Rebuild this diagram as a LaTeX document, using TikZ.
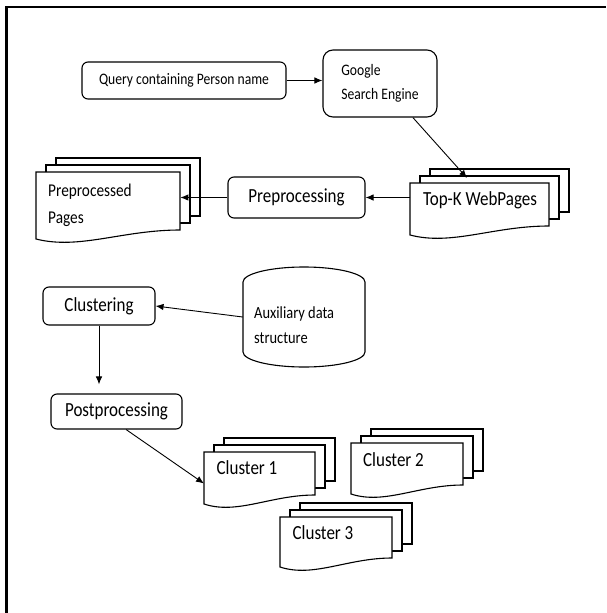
\documentclass[tikz,border=0pt]{standalone}
\usepackage{fontspec}
\setmainfont{Carlito}[FakeStretch=0.85]
\usetikzlibrary{arrows.meta,positioning}

% a stack of three pages: name, top left corner of the front page, width, height
\newcommand{\pagestack}[4]{%
  \begin{scope}[shift={#2}]
    \draw[page] (20,-14) rectangle ++(#3,#4);
    \draw[page] (10,-7) rectangle ++(#3,#4);
    \draw[page] (0,0) -- (#3,0) -- (#3,#4)
      .. controls (0.6*#3,#4) and (0.3*#3,#4+20) .. (0,#4+9) -- cycle;
    \node[inner sep=0pt, minimum width=#3pt, minimum height=#4pt, anchor=north west] (#1) at (0,0) {};
  \end{scope}}

\begin{document}
\begin{tikzpicture}[x=1pt, y=-1pt,
    proc/.style={draw, rounded corners=6pt, line width=1.1pt, align=center, inner sep=0pt},
    page/.style={draw, line width=1.1pt, fill=white},
    pagetext/.style={inner sep=0pt, align=left},
    bigtext/.style={font=\fontsize{20}{24}\selectfont},
    smalltext/.style={font=\fontsize{16}{24}\selectfont},
    flow/.style={-{Latex[length=8pt,width=6.5pt]}, line width=0.9pt},
    frame/.style={line width=2.5pt}
]
    \useasboundingbox (0,0) rectangle (606,613);
    % page border
    \draw[frame] (6.5,613) -- (6.5,7) -- (606,7);

    % search: query -> engine -> result pages
    \node[proc, smalltext, minimum width=204pt, minimum height=37pt] (query) at (184,80.5) {Query containing Person name};
    \node[proc, smalltext, rounded corners=10pt, align=left, minimum width=114pt, minimum height=67pt] (google) at (380,83.5) {Google\\Search Engine};
    \pagestack{topk}{(410,183)}{139}{43}
    \node[pagetext, bigtext] (topk-text) at (480,200) {Top-K WebPages};
    \coordinate (webin) at (467,178);

    % preprocessing
    \node[proc, bigtext, minimum width=137pt, minimum height=41pt] (prep) at (296.5,197.5) {Preprocessing};
    \pagestack{prepages}{(36,172)}{144}{58}
    \node[pagetext, font=\fontsize{18}{27}\selectfont, anchor=west] (prepages-text) at (48,205.5) {Preprocessed\\Pages};

    % clustering with the auxiliary store
    \draw[page] (243,282) -- (243,352) arc[start angle=180, end angle=0, x radius=61, y radius=15]
      -- (365,282) arc[start angle=0, end angle=-180, x radius=61, y radius=15] -- cycle;
    \node[inner sep=0pt, minimum width=122pt, minimum height=100pt] (aux) at (304,317) {};
    \node[pagetext, font=\fontsize{17}{25}\selectfont, anchor=west] (aux-text) at (254,325.5) {Auxiliary data\\structure};
    \node[proc, bigtext, minimum width=112pt, minimum height=38pt] (clust) at (99,306) {Clustering};
    \node[proc, bigtext, minimum width=131pt, minimum height=35pt] (post) at (116.5,411.5) {Postprocessing};

    % resulting clusters
    \pagestack{c1}{(204,452)}{111}{43}
    \pagestack{c2}{(351,443)}{112}{42}
    \pagestack{c3}{(280,517)}{112}{41}
    \node[pagetext, bigtext] (c1-text) at (247,468) {Cluster 1};
    \node[pagetext, bigtext] (c2-text) at (393.5,460) {Cluster 2};
    \node[pagetext, bigtext] (c3-text) at (323,533) {Cluster 3};

    \draw[flow] (query.east) -- (query.east -| google.west);
    \draw[flow] (google.-46) -- (webin);
    \draw[flow] (topk.west |- prep.east) -- (prep.east);
    \draw[flow] (prep.west) -- (prepages.east |- prep.west);
    \draw[flow] (aux.west) -- (clust.east);
    \draw[flow, shorten >=9pt] (clust.south) -- (clust.south |- post.north);
    \draw[flow] (post.-62) -- (c1.190);
\end{tikzpicture}
\end{document}
